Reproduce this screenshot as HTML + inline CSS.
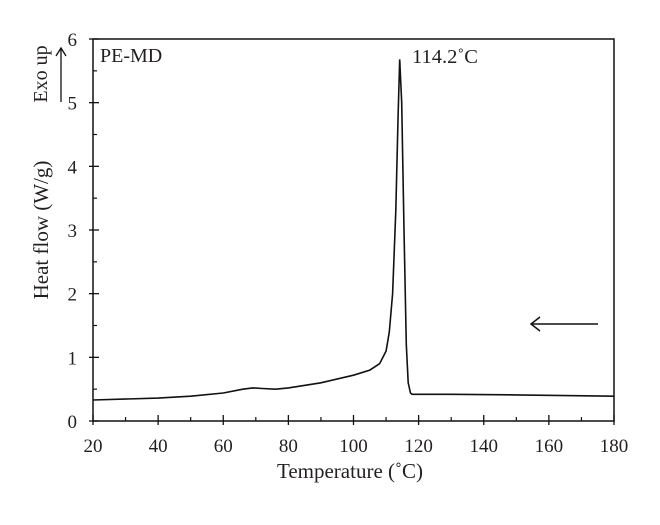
<!DOCTYPE html>
<html><head><meta charset="utf-8"><style>
body{margin:0;background:#fff}
text{font-family:"Liberation Serif",serif;fill:#231f20}
</style></head><body>
<svg id="c" width="660" height="520" xmlns="http://www.w3.org/2000/svg">
<g id="axes"></g>
<path id="curve" fill="none" stroke="#111" stroke-width="1.6"/>
<text x="100" y="62" font-size="20">PE-MD</text>
<text x="412" y="63" font-size="20.5">114.2˚C</text>
<g stroke="#111" stroke-width="1.5" fill="none">
<line x1="531" y1="324" x2="598" y2="324"/><polyline points="540,317 531,324 540,331"/></g>
<text transform="translate(47,74) rotate(-90)" text-anchor="middle" font-size="20">Exo up</text>
<g stroke="#111" stroke-width="1.3" fill="none">
<line x1="61" y1="102" x2="61" y2="48"/><polyline points="56,56 61,48 66,56"/></g>
<text transform="translate(48,230) rotate(-90)" text-anchor="middle" font-size="21">Heat flow (W/g)</text>
<text x="350" y="478" text-anchor="middle" font-size="21">Temperature (˚C)</text>
</svg>
<script>
const xTicks=[20,40,60,80,100,120,140,160,180];
const yTicks=[0,1,2,3,4,5,6];
const temps=[20,40,50,60,66,69,72,76,80,90,100,105,108,110,111,112,113,113.7,114.2,114.8,115.5,116.2,116.8,117.5,118,130,150,180];
const heat=[0.33,0.36,0.39,0.44,0.5,0.52,0.51,0.5,0.52,0.6,0.72,0.8,0.9,1.1,1.4,2.0,3.3,4.8,5.68,5.0,3.0,1.2,0.6,0.44,0.42,0.42,0.41,0.39];
const L=93,R=614,T=39,B=421;
const sx=v=>L+(v-20)/160*(R-L), sy=v=>B-v/6*(B-T);
const ns="http://www.w3.org/2000/svg",g=document.getElementById('axes');
function el(t,a){const e=document.createElementNS(ns,t);for(const k in a)e.setAttribute(k,a[k]);g.appendChild(e);return e;}
const fr=el('rect',{x:L,y:T,width:R-L,height:B-T,fill:'none',stroke:'#111','stroke-width':1.5});


xTicks.forEach((v,i)=>{
 el('line',{x1:sx(v),x2:sx(v),y1:B+4,y2:B-6,stroke:'#111','stroke-width':1.3});
 if(i<xTicks.length-1)el('line',{x1:sx(v+10),x2:sx(v+10),y1:B,y2:B-4,stroke:'#111','stroke-width':1.2});
 const t=el('text',{x:sx(v),y:B+31,'text-anchor':'middle','font-size':19});
 t.textContent=v;
 
 
});
yTicks.forEach((v,i)=>{
 el('line',{x1:L-4,x2:L+6,y1:sy(v),y2:sy(v),stroke:'#111','stroke-width':1.3});
 if(i<yTicks.length-1)el('line',{x1:L,x2:L+4,y1:sy(v+0.5),y2:sy(v+0.5),stroke:'#111','stroke-width':1.2});
 const t=el('text',{x:L-16,y:sy(v)+7,'text-anchor':'end','font-size':19});
 t.textContent=v;
 
 
});
document.getElementById('curve').setAttribute('d',temps.map((t,i)=>(i?'L':'M')+sx(t).toFixed(1)+','+sy(heat[i]).toFixed(1)).join(''));
</script>
</body></html>
